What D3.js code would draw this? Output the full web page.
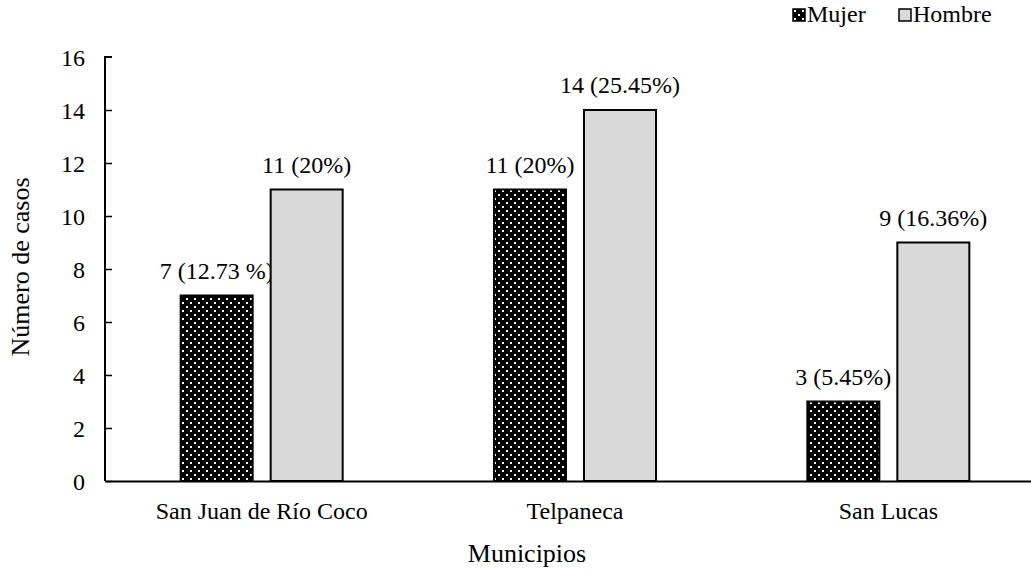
<!DOCTYPE html>
<html><head><meta charset="utf-8">
<script src="https://cdn.jsdelivr.net/npm/d3@7"></script>
<style>body{margin:0;background:#fff}svg{display:block}svg text{font-family:"Liberation Serif","Tinos","Times New Roman",serif !important;fill:#000}</style>
</head><body><svg id="c" width="1031" height="571"></svg>
<script>
const categories = ["San Juan de Río Coco", "Telpaneca", "San Lucas"];
const series = ["Mujer", "Hombre"];
const mujer = [7, 11, 3];
const hombre = [11, 14, 9];
const mujerLabels = ["7 (12.73 %)", "11 (20%)", "3 (5.45%)"];
const hombreLabels = ["11 (20%)", "14 (25.45%)", "9 (16.36%)"];
const yTicks = [0, 2, 4, 6, 8, 10, 12, 14, 16];

const FONT = "'Liberation Serif', Tinos, 'Times New Roman', serif";
const svg = d3.select("#c").attr("font-family", FONT);
const defs = svg.append("defs");
const pat = defs.append("pattern").attr("id","dots").attr("patternUnits","userSpaceOnUse")
  .attr("width",8).attr("height",8);
pat.append("rect").attr("width",8).attr("height",8).attr("fill","#000");
pat.append("rect").attr("x",2).attr("y",2).attr("width",2).attr("height",2).attr("fill","#fff");
pat.append("rect").attr("x",6).attr("y",6).attr("width",2).attr("height",2).attr("fill","#fff");

const x0 = d3.scaleBand().domain(categories).range([105, 1045]);
const y = d3.scaleLinear().domain([0, 16]).range([481, 57]);
const barW = 72, gap = 18;
const fills = {Mujer: "url(#dots)", Hombre: "#d9d9d9"};

const data = categories.map((c,i)=>({c, vals:[
  {s:"Mujer", v:mujer[i], lab:mujerLabels[i]},
  {s:"Hombre", v:hombre[i], lab:hombreLabels[i]}]}));

const g = svg.append("g");
data.forEach(d=>{
  const cx = x0(d.c) + x0.bandwidth()/2;
  d.vals.forEach((b,j)=>{
    const bx = j===0 ? cx - gap/2 - barW : cx + gap/2;
    g.append("rect").attr("x",bx).attr("y",y(b.v)).attr("width",barW)
      .attr("height",y(0)-y(b.v)).attr("fill",fills[b.s])
      .attr("stroke","#000").attr("stroke-width",2);
    g.append("text").attr("x",bx+barW/2).attr("y",y(b.v)-17)
      .attr("text-anchor","middle").attr("font-size",24).text(b.lab);
  });
});

// y axis
const ya = svg.append("g").attr("transform","translate(105,0)")
  .call(d3.axisLeft(y).tickValues(yTicks).tickSizeInner(-7).tickSizeOuter(-7).tickPadding(20));
ya.attr("font-family", FONT);
ya.select(".domain").attr("stroke","#000").attr("stroke-width",2).attr("d","M-0,481V57h7");
ya.selectAll(".tick line").attr("stroke","#000").attr("stroke-width",1.5);
ya.selectAll(".tick text").attr("font-size",24).attr("dy","0.34em");
ya.selectAll(".tick").filter(d=>d===16).select("line").remove();

// x axis
const xa = svg.append("g").attr("transform","translate(0,481)")
  .call(d3.axisBottom(x0).tickSize(0).tickPadding(21));
xa.attr("font-family", FONT);
xa.select(".domain").attr("stroke","#000").attr("stroke-width",2);
xa.selectAll(".tick text").attr("font-size",24);

svg.append("text").attr("transform","translate(29,267) rotate(-90)")
  .attr("text-anchor","middle").attr("font-size",26).text("Número de casos");
svg.append("text").attr("x",527).attr("y",562).attr("text-anchor","middle")
  .attr("font-size",26).text("Municipios");

// legend
const leg = svg.append("g");
const legItems = [{s:"Mujer", x:793},{s:"Hombre", x:899}];
legItems.forEach(it=>{
  leg.append("rect").attr("x",it.x).attr("y",9).attr("width",12).attr("height",12)
    .attr("fill",fills[it.s]).attr("stroke","#000").attr("stroke-width",1.5);
  leg.append("text").attr("x",it.x+14).attr("y",22).attr("font-size",24).text(it.s);
});
</script></body></html>
